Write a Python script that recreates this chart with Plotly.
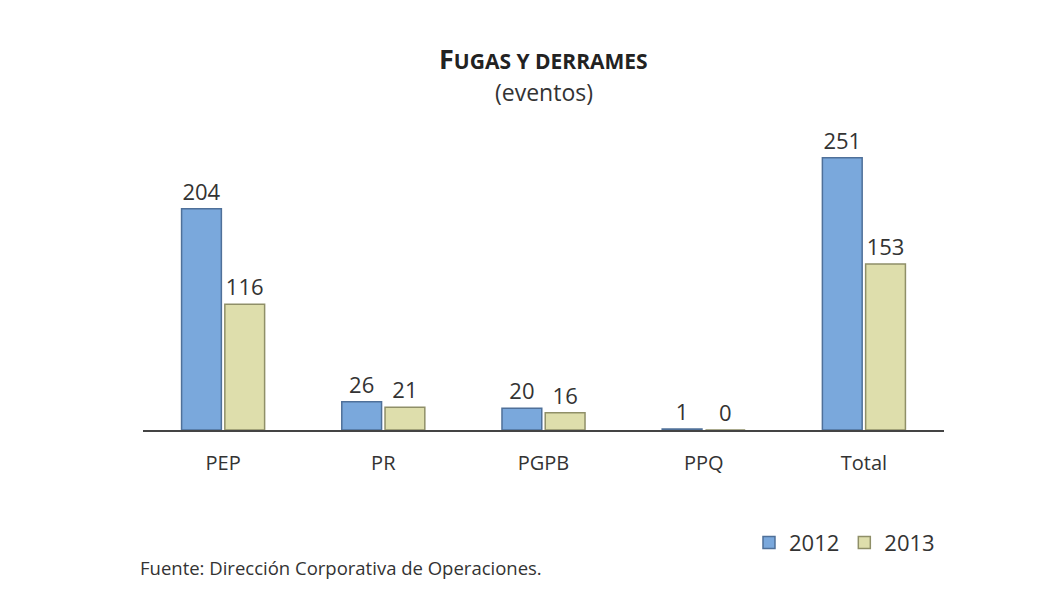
import plotly.graph_objects as go

categories = ["PEP", "PR", "PGPB", "PPQ", "Total"]
values_2012 = [204, 26, 20, 1, 251]
values_2013 = [116, 21, 16, 0, 153]
series_names = ["2012", "2013"]

FONT = "Open Sans"
TXT = "#333333"

fig = go.Figure()
fig.add_trace(go.Bar(
    x=categories, y=values_2012, name=series_names[0],
    marker=dict(color="#7aa8dc", line=dict(color="#4f7099", width=1.5)),
    text=[str(v) for v in values_2012], textposition="outside", cliponaxis=False,
    textfont=dict(family=FONT, size=22, color=TXT),
))
fig.add_trace(go.Bar(
    x=categories, y=values_2013, name=series_names[1],
    marker=dict(color="#dedeac", line=dict(color="#8f8f68", width=1.5)),
    text=[str(v) for v in values_2013], textposition="outside", cliponaxis=False,
    textfont=dict(family=FONT, size=22, color=TXT),
))

fig.update_layout(
    width=1049, height=594,
    paper_bgcolor="white", plot_bgcolor="white",
    margin=dict(l=135, r=113, t=140, b=172),
    barmode="group", bargap=0.46, bargroupgap=0.08,
    font=dict(family=FONT, color=TXT),
    showlegend=True,
    legend=dict(orientation="h", x=0.995, xanchor="right", y=-0.40, yanchor="middle",
                font=dict(family=FONT, size=22, color=TXT), itemwidth=30,
                bgcolor="rgba(0,0,0,0)"),
    xaxis=dict(showline=True, linecolor="#444444", linewidth=1.5, ticks="",
               tickfont=dict(family=FONT, size=20, color=TXT), ticklabelstandoff=14,
               showgrid=False),
    yaxis=dict(range=[0, 260], visible=False, showgrid=False, zeroline=False),
    annotations=[
        dict(text="<b>F<span style='font-size:21px'>UGAS Y DERRAMES</span></b>", x=0.5, y=1.319,
             xref="paper", yref="paper", showarrow=False, yanchor="middle",
             font=dict(family=FONT, size=27, color="#222222")),
        dict(text="(eventos)", x=0.5, y=1.199, xref="paper", yref="paper",
             showarrow=False, yanchor="middle",
             font=dict(family=FONT, size=23, color=TXT)),
        dict(text="Fuente: Dirección Corporativa de Operaciones.", x=-0.006, y=-0.489,
             xref="paper", yref="paper", showarrow=False, xanchor="left", yanchor="middle",
             font=dict(family=FONT, size=18.5, color=TXT)),
    ],
)

fig.write_html("out.html")
